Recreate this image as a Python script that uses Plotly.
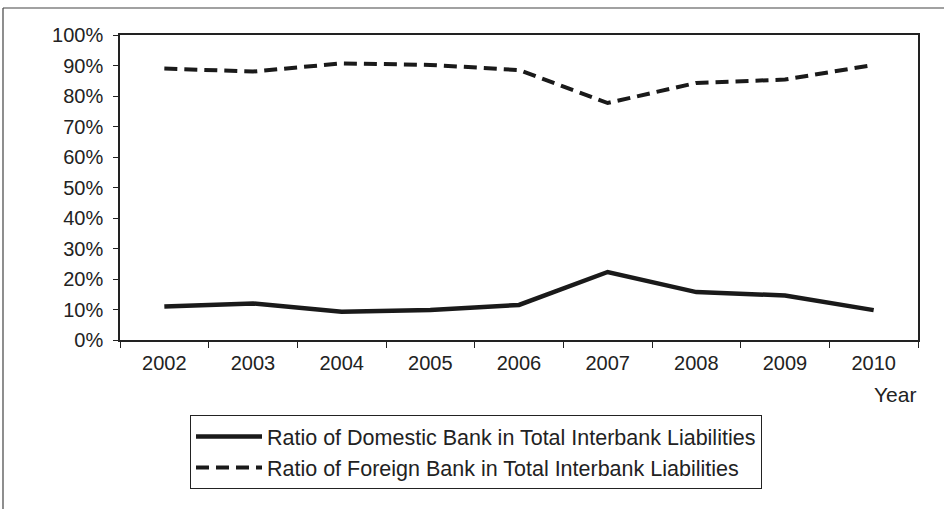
import plotly.graph_objects as go

years = ["2002", "2003", "2004", "2005", "2006", "2007", "2008", "2009", "2010"]
domestic = [11.0, 12.0, 9.3, 9.8, 11.5, 22.3, 15.7, 14.6, 9.8]
foreign = [89.0, 88.0, 90.7, 90.2, 88.5, 77.7, 84.3, 85.4, 90.2]
y_ticks = [0, 10, 20, 30, 40, 50, 60, 70, 80, 90, 100]
y_labels = [f"{v}%" for v in y_ticks]

FAM = "Liberation Sans, Arial, sans-serif"
font = dict(family=FAM, size=20, color="#222222")

fig = go.Figure()
fig.add_trace(go.Scatter(
    x=years, y=domestic, mode="lines",
    name="Ratio of Domestic Bank in Total Interbank Liabilities",
    line=dict(color="#1a1a1a", width=4.5),
))
fig.add_trace(go.Scatter(
    x=years, y=foreign, mode="lines",
    name="Ratio of Foreign Bank in Total Interbank Liabilities",
    line=dict(color="#1a1a1a", width=4, dash="13px,7px"),
))

L, R, T, B = 120, 26, 35, 169
W, H = 944, 509
pw = W - L - R
ph = H - T - B

def px(xp):
    return (xp - L) / pw

def py(yp):
    return 1 - (yp - T) / ph

fig.update_layout(
    width=W, height=H,
    margin=dict(l=L, r=R, t=T, b=B),
    paper_bgcolor="white", plot_bgcolor="white",
    font=font,
    showlegend=True,
    legend=dict(
        x=px(190), y=py(415), xanchor="left", yanchor="top",
        bordercolor="#222222", borderwidth=1, bgcolor="white",
        font=dict(family=FAM, size=21.5, color="#222222"),
        itemwidth=66,
    ),
    xaxis=dict(
        type="category", range=[-0.5, 8.5],
        showline=True, linecolor="#222222", linewidth=1.5, mirror=True,
        ticks="outside", tickson="boundaries", ticklen=6, tickcolor="#222222",
        showgrid=False, zeroline=False, tickfont=font, ticklabelstandoff=4,
    ),
    yaxis=dict(
        range=[0, 100], tickvals=y_ticks, ticktext=y_labels,
        showline=True, linecolor="#222222", linewidth=1.5, mirror=True,
        ticks="outside", ticklen=5, tickcolor="#222222",
        showgrid=False, zeroline=False, tickfont=font, ticklabelstandoff=6,
    ),
    annotations=[dict(
        text="Year", xref="paper", yref="paper",
        x=px(918), y=py(394), xanchor="right", yanchor="middle",
        showarrow=False, font=dict(family=FAM, size=21, color="#222222"),
    )],
    shapes=[
        dict(type="line", xref="paper", yref="paper",
             x0=px(3), x1=px(944), y0=py(8), y1=py(8),
             line=dict(color="#444444", width=1.2)),
        dict(type="line", xref="paper", yref="paper",
             x0=px(3), x1=px(3), y0=py(8), y1=py(509),
             line=dict(color="#444444", width=1.2)),
    ],
)

fig.write_html(
    "out.html",
    config={"displayModeBar": False},
    post_script="document.body.style.margin='0px';document.body.style.overflow='hidden';",
)
